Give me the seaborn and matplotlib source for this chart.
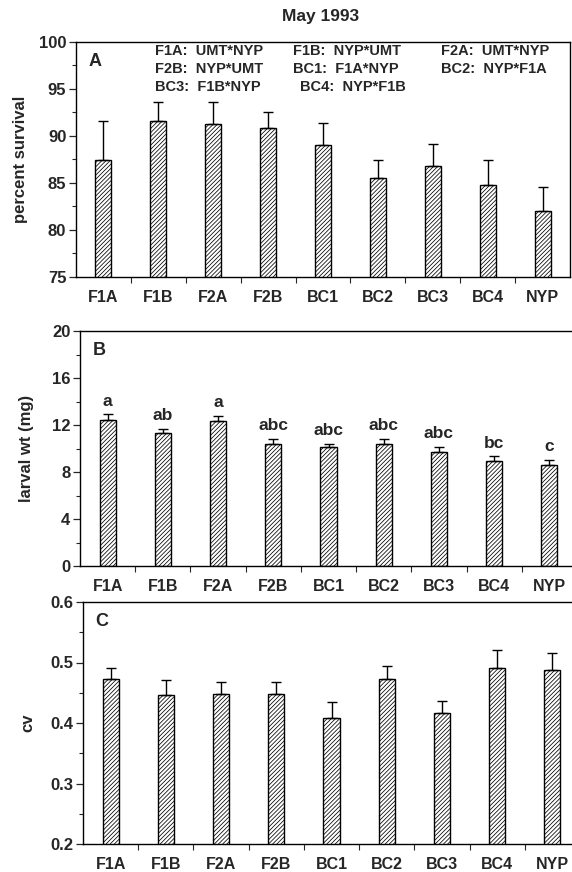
import matplotlib
matplotlib.use("Agg")
import matplotlib.pyplot as plt
import seaborn as sns
import pandas as pd
import numpy as np
from matplotlib.ticker import MultipleLocator

sns.set_style("ticks")
plt.rcParams['font.family'] = ['Liberation Sans', 'DejaVu Sans']
plt.rcParams['font.weight'] = 'bold'
plt.rcParams['hatch.linewidth'] = 0.55

categories = ["F1A", "F1B", "F2A", "F2B", "BC1", "BC2", "BC3", "BC4", "NYP"]

survival = [87.4, 91.6, 91.3, 90.9, 89.0, 85.5, 86.8, 84.8, 82.0]
survival_err = [4.2, 2.0, 2.3, 1.7, 2.4, 1.9, 2.4, 2.6, 2.6]

larval_wt = [12.4, 11.3, 12.3, 10.4, 10.1, 10.35, 9.7, 8.9, 8.6]
larval_err = [0.5, 0.4, 0.5, 0.45, 0.3, 0.5, 0.45, 0.45, 0.45]
larval_letters = ["a", "ab", "a", "abc", "abc", "abc", "abc", "bc", "c"]

cv = [0.473, 0.446, 0.448, 0.448, 0.408, 0.473, 0.417, 0.491, 0.487]
cv_err = [0.018, 0.025, 0.019, 0.020, 0.026, 0.022, 0.019, 0.029, 0.028]

legend_rows = [
    ["F1A:  UMT*NYP", "F1B:  NYP*UMT", "F2A:  UMT*NYP"],
    ["F2B:  NYP*UMT", "BC1:  F1A*NYP", "BC2:  NYP*F1A"],
    ["BC3:  F1B*NYP", "BC4:  NYP*F1B"],
]

W, H = 572, 872
fig = plt.figure(figsize=(W / 100, H / 100), dpi=100)


def add_ax(left, right, top, bottom):
    return fig.add_axes([left / W, 1 - bottom / H, (right - left) / W, (bottom - top) / H])


def draw_panel(ax, vals, errs, ylim, major, minor, ylabel, letter, fmt):
    df = pd.DataFrame({"group": categories, "value": vals})
    sns.barplot(data=df, x="group", y="value", ax=ax, color="white",
                edgecolor="black", linewidth=1.0, width=0.29,
                errorbar=None, saturation=1)
    for p in ax.patches:
        p.set_hatch("////////")
        p.set_facecolor("white")
        p.set_edgecolor("black")
    x = np.arange(len(categories))
    ax.errorbar(x, vals, yerr=[np.zeros(len(vals)), errs], fmt="none",
                ecolor="black", elinewidth=1.0, capsize=3.6, capthick=1.0)
    ax.set_ylim(*ylim)
    ax.set_xlim(-0.5, len(categories) - 0.5)
    ax.yaxis.set_major_locator(MultipleLocator(major))
    ax.yaxis.set_minor_locator(MultipleLocator(minor))
    ax.yaxis.set_major_formatter(plt.FuncFormatter(lambda v, p: fmt.format(v)))
    ax.set_xticks(x)
    ax.set_xticklabels(categories, fontsize=11.5, fontweight="bold")
    ax.tick_params(axis="x", length=0, pad=9)
    ax.set_xticks(np.arange(len(categories) - 1) + 0.5, minor=True)
    ax.tick_params(axis="x", which="minor", length=4, width=0.8, direction="out")
    ax.tick_params(axis="y", which="major", length=5, width=0.9, labelsize=12, pad=2)
    ax.tick_params(axis="y", which="minor", length=3, width=0.8)
    for lab in ax.get_yticklabels():
        lab.set_fontweight("bold")
    ax.set_xlabel("")
    ax.set_ylabel(ylabel, fontsize=12, fontweight="bold")
    for s in ax.spines.values():
        s.set_linewidth(1.0)
        s.set_color("black")
    ax.text(0.025, 0.955, letter, transform=ax.transAxes, fontsize=13,
            fontweight="bold", ha="left", va="top")


axA = add_ax(76, 570, 42, 277)
draw_panel(axA, survival, survival_err, (75, 100), 5, 2.5, "percent survival", "A", "{:.0f}")
axA.yaxis.set_label_coords(-0.097, 0.5)
col_x = [155, 293, 441]
row_y = [51, 69, 87]
for r, row in enumerate(legend_rows):
    for c, txt in enumerate(row):
        xx = col_x[c] + (7 if (r == 2 and c == 1) else 0)
        fig.text(xx / W, 1 - row_y[r] / H, txt, fontsize=10.5, fontweight="bold",
                 ha="left", va="center")

axB = add_ax(80, 577, 331, 566)
draw_panel(axB, larval_wt, larval_err, (0, 20), 4, 2, "larval wt (mg)", "B", "{:.0f}")
axB.yaxis.set_label_coords(-0.093, 0.5)
for i, (v, e, t) in enumerate(zip(larval_wt, larval_err, larval_letters)):
    axB.annotate(t, (i, v + e), xytext=(0, 4), textcoords="offset points",
                 ha="center", va="bottom", fontsize=12.5, fontweight="bold")

axC = add_ax(83, 580, 602, 844)
draw_panel(axC, cv, cv_err, (0.2, 0.6), 0.1, 0.05, "cv", "C", "{:.1f}")
axC.yaxis.set_label_coords(-0.095, 0.5)

fig.text(321 / W, 1 - 17 / H, "May 1993", fontsize=12.5, fontweight="bold",
         ha="center", va="center")

fig.savefig("out.png", dpi=100)
